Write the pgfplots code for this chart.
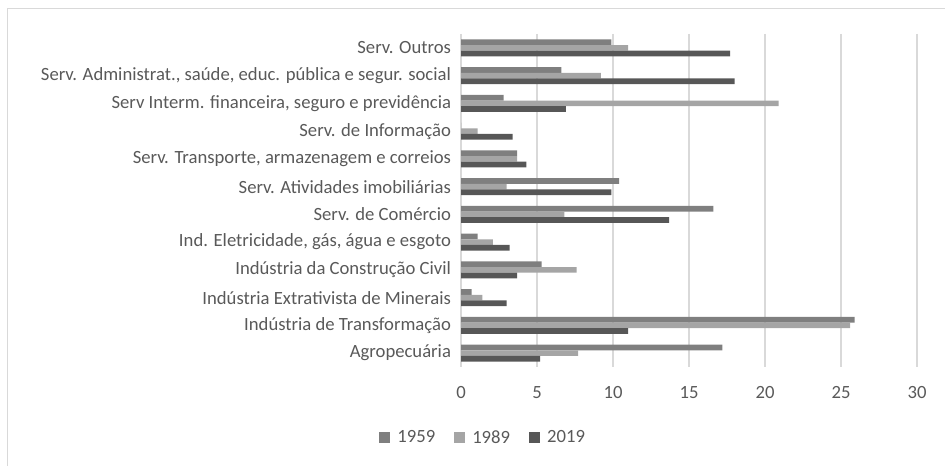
\documentclass[border=0pt]{standalone}
\usepackage{fontspec}
\setmainfont{Carlito}
\usepackage{pgfplots}
\pgfplotsset{compat=1.18}
\definecolor{txt}{HTML}{595959}
\definecolor{gridc}{HTML}{D9D9D9}
\definecolor{cA}{HTML}{7F7F7F}
\definecolor{cB}{HTML}{A5A5A5}
\definecolor{cC}{HTML}{575757}

\pgfplotstableread{
idx v1959 v1989 v2019
0  9.9  11.0 17.7
1  6.6  9.2  18.0
2  2.8  20.9 6.9
3  0    1.1  3.4
4  3.7  3.7  4.3
5  10.4 3.0  9.9
6  16.6 6.8  13.7
7  1.1  2.1  3.2
8  5.3  7.6  3.7
9  0.7  1.4  3.0
10 25.9 25.6 11.0
11 17.2 7.7  5.2
}\datatable

\begin{document}
\begin{tikzpicture}[x=0.75pt,y=0.75pt]
\useasboundingbox (0,0) rectangle (945,466);
\draw[gridc, line width=0.75pt] (7,0) -- (7,457) -- (945,457);
\begin{axis}[
    at={(345.75pt,74.25pt)}, anchor=south west,
    scale only axis,
    width=342pt, height=249.75pt,
    xbar, bar width=0.205,
    y dir=reverse,
    xmin=0, xmax=30,
    ymin=-0.5, ymax=11.5,
    xtick={0,5,...,30},
    ytick={0,...,11},
    yticklabels={
        Serv. Outros,
        {Serv. Administrat., saúde, educ. pública e segur. social},
        {Serv Interm. financeira, seguro e previdência},
        Serv. de Informação,
        {Serv. Transporte, armazenagem e correios},
        Serv. Atividades imobiliárias,
        Serv. de Comércio,
        {Ind. Eletricidade, gás, água e esgoto},
        Indústria da Construção Civil,
        Indústria Extrativista de Minerais,
        Indústria de Transformação,
        Agropecuária},
    xmajorgrids,
    grid style={gridc, line width=0.9pt},
    axis x line*=bottom,
    axis y line*=left,
    x axis line style={draw=none},
    y axis line style={draw=gridc, line width=0.9pt},
    major tick length=0pt,
    tick style={draw=none},
    tick label style={font=\fontsize{14}{16}\selectfont, text=txt},
    /pgf/number format/assume math mode=true,
    xticklabel style={yshift=-11pt},
    yticklabel style={xshift=-4pt},
    legend columns=3,
    legend style={
        at={(0.049,-0.213)}, anchor=center,
        draw=none, fill=none,
        font=\fontsize{14}{16}\selectfont, text=txt,
        /tikz/every odd column/.append style={column sep=3.5pt},
        /tikz/every even column/.append style={column sep=12pt},
    },
    legend image code/.code={\fill[#1] (0pt,-4.1pt) rectangle (8.3pt,4.1pt);},
]
\addplot[fill=cA, draw=none, bar shift=-0.205] table[x=v1959, y=idx] {\datatable};
\addplot[fill=cB, draw=none, bar shift=0] table[x=v1989, y=idx] {\datatable};
\addplot[fill=cC, draw=none, bar shift=0.205] table[x=v2019, y=idx] {\datatable};
\legend{1959,1989,2019}
\end{axis}
\end{tikzpicture}
\end{document}
